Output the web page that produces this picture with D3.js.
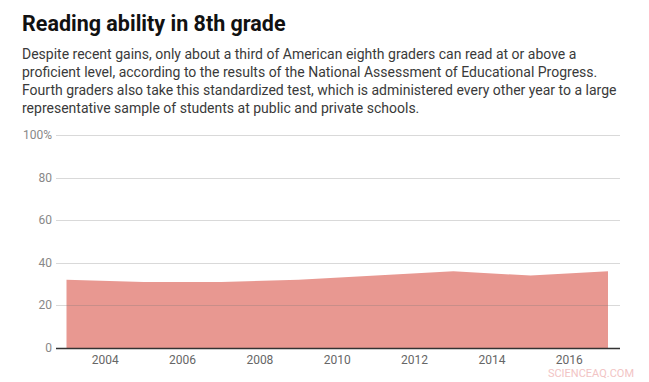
<!DOCTYPE html>
<html>
<head>
<meta charset="utf-8">
<script src="https://cdn.jsdelivr.net/npm/d3@7"></script>
<style>
  html, body { margin: 0; padding: 0; background: #fff; }
  svg { display: block; font-family: Roboto, "Noto Sans", sans-serif; }
</style>
</head>
<body>
<svg id="chart" width="649" height="382"></svg>
<script>
const titleText = "Reading ability in 8th grade";
const subtitleLines = [
  "Despite recent gains, only about a third of American eighth graders can read at or above a",
  "proficient level, according to the results of the National Assessment of Educational Progress.",
  "Fourth graders also take this standardized test, which is administered every other year to a large",
  "representative sample of students at public and private schools."
];
const years = [2003, 2005, 2007, 2009, 2011, 2013, 2015, 2017];
const proficient = [32, 31, 31, 32, 34, 36, 34, 36];
const yTicks = [0, 20, 40, 60, 80, 100];
const xTicks = [2004, 2006, 2008, 2010, 2012, 2014, 2016];
const watermark = "SCIENCEAQ.COM";

const svg = d3.select("#chart");

svg.append("text").attr("x", 22).attr("y", 31)
  .attr("font-size", 21.5).attr("font-weight", 700).attr("fill", "#111")
  .text(titleText);

svg.selectAll("text.sub").data(subtitleLines).join("text")
  .attr("class", "sub")
  .attr("x", 22).attr("y", (d, i) => 59 + i * 18)
  .attr("font-size", 14).attr("fill", "#3a3a3a")
  .text(d => d);

const plotLeft = 56, plotRight = 620;
const x = d3.scaleLinear().domain([2003, 2017]).range([66.5, 608]);
const y = d3.scaleLinear().domain([0, 100]).range([348, 135]);

const data = years.map((yr, i) => ({ yr, v: proficient[i] }));

const area = d3.area()
  .x(d => x(d.yr))
  .y0(y(0))
  .y1(d => y(d.v))
  .curve(d3.curveLinear);

svg.append("path").datum(data)
  .attr("d", area)
  .attr("fill", "#e89891");

// gridlines
svg.selectAll("line.grid").data(yTicks.filter(t => t > 0)).join("line")
  .attr("class", "grid")
  .attr("x1", plotLeft).attr("x2", plotRight)
  .attr("y1", d => Math.round(y(d)) + 0.5).attr("y2", d => Math.round(y(d)) + 0.5)
  .attr("stroke", "rgba(120,120,120,0.28)").attr("stroke-width", 1);

svg.selectAll("text.ylab").data(yTicks).join("text")
  .attr("class", "ylab")
  .attr("x", 52).attr("y", d => y(d) + 4)
  .attr("text-anchor", "end")
  .attr("font-size", 12).attr("fill", "#888")
  .text(d => d === 100 ? "100%" : d);

// baseline
svg.append("line")
  .attr("x1", plotLeft).attr("x2", plotRight)
  .attr("y1", y(0) + 0.5).attr("y2", y(0) + 0.5)
  .attr("stroke", "#333").attr("stroke-width", 1.5);

svg.selectAll("text.xlab").data(xTicks).join("text")
  .attr("class", "xlab")
  .attr("x", d => x(d)).attr("y", 364)
  .attr("text-anchor", "middle")
  .attr("font-size", 12).attr("fill", "#666")
  .text(d => d);

svg.append("text").attr("x", 634).attr("y", 377)
  .attr("text-anchor", "end")
  .attr("font-size", 11).attr("fill", "#f2c4c4")
  .text(watermark);
</script>
</body>
</html>
